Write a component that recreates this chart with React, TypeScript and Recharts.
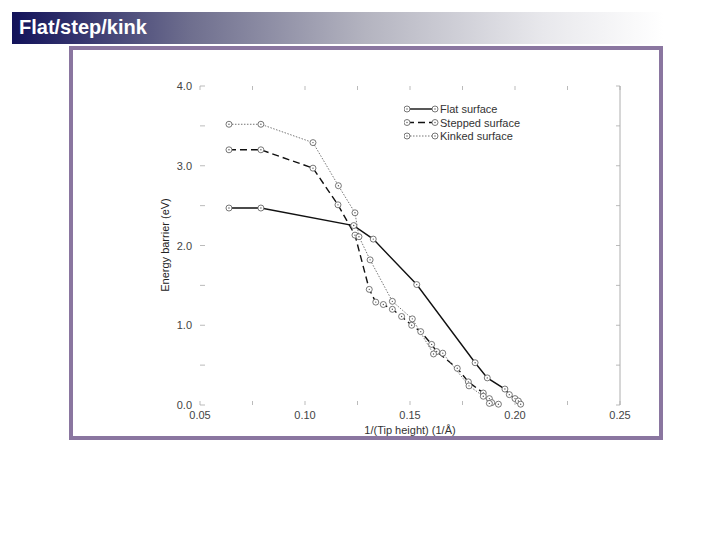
import { LineChart, Line, XAxis, YAxis, ReferenceLine } from "recharts";

// 1/(tip height) vs. energy barrier, one list per surface
const flatSurface = [
  { x: 0.0638, y: 2.47 },
  { x: 0.079, y: 2.47 },
  { x: 0.1232, y: 2.25 },
  { x: 0.1325, y: 2.08 },
  { x: 0.1532, y: 1.51 },
  { x: 0.181, y: 0.53 },
  { x: 0.1868, y: 0.34 },
  { x: 0.1952, y: 0.2 },
  { x: 0.1973, y: 0.13 },
  { x: 0.2, y: 0.08 },
  { x: 0.2016, y: 0.05 },
  { x: 0.2027, y: 0.01 },
];

const steppedSurface = [
  { x: 0.0638, y: 3.2 },
  { x: 0.079, y: 3.2 },
  { x: 0.1038, y: 2.97 },
  { x: 0.1157, y: 2.51 },
  { x: 0.1238, y: 2.13 },
  { x: 0.1306, y: 1.45 },
  { x: 0.1337, y: 1.29 },
  { x: 0.1373, y: 1.26 },
  { x: 0.1416, y: 1.2 },
  { x: 0.146, y: 1.11 },
  { x: 0.1508, y: 1.0 },
  { x: 0.1551, y: 0.92 },
  { x: 0.1603, y: 0.76 },
  { x: 0.1627, y: 0.67 },
  { x: 0.1725, y: 0.46 },
  { x: 0.1778, y: 0.29 },
  { x: 0.1849, y: 0.15 },
  { x: 0.1878, y: 0.08 },
  { x: 0.1889, y: 0.03 },
];

const kinkedSurface = [
  { x: 0.0638, y: 3.52 },
  { x: 0.079, y: 3.52 },
  { x: 0.1038, y: 3.29 },
  { x: 0.1159, y: 2.75 },
  { x: 0.1238, y: 2.41 },
  { x: 0.1257, y: 2.11 },
  { x: 0.131, y: 1.82 },
  { x: 0.1416, y: 1.3 },
  { x: 0.1511, y: 1.08 },
  { x: 0.1612, y: 0.64 },
  { x: 0.1656, y: 0.65 },
  { x: 0.1781, y: 0.24 },
  { x: 0.1849, y: 0.11 },
  { x: 0.1878, y: 0.02 },
  { x: 0.1921, y: 0.01 },
];

const xTicks = [0.05, 0.075, 0.1, 0.125, 0.15, 0.175, 0.2, 0.225, 0.25];
const yTicks = [0, 0.5, 1, 1.5, 2, 2.5, 3, 3.5, 4];

const seriesStyles = [
  { name: "Flat surface", data: flatSurface, stroke: "#111", width: 1.4, dash: undefined },
  { name: "Stepped surface", data: steppedSurface, stroke: "#111", width: 1.4, dash: "7 4" },
  { name: "Kinked surface", data: kinkedSurface, stroke: "#666", width: 0.9, dash: "1.5 1.5" },
];

const FONT = "'Liberation Sans', Arial, Helvetica, sans-serif";
const PLOT_TOP = 86;
const PLOT_BOTTOM = 405;
const PLOT_LEFT = 200;
const PLOT_RIGHT = 620;

function RingDot(props: any) {
  const { cx, cy } = props;
  if (cx == null || cy == null) return null;
  return (
    <g>
      <circle cx={cx} cy={cy} r={3} fill="#fff" stroke="#555" strokeWidth={0.8} />
      <circle cx={cx} cy={cy} r={0.7} fill="#555" />
    </g>
  );
}

function XTick(props: any) {
  const { x, payload } = props;
  const v = payload.value;
  const major = Math.abs(v * 20 - Math.round(v * 20)) < 1e-6;
  return (
    <g>
      <line x1={x} x2={x} y1={PLOT_BOTTOM} y2={PLOT_BOTTOM - 4} stroke="#aaa" strokeWidth={0.8} />
      <line x1={x} x2={x} y1={PLOT_TOP} y2={PLOT_TOP + 4} stroke="#aaa" strokeWidth={0.8} />
      {major && (
        <text x={x} y={419} textAnchor="middle" fontSize={11} fill="#444" fontFamily={FONT}>
          {v.toFixed(2)}
        </text>
      )}
    </g>
  );
}

function YTick(props: any) {
  const { y, payload } = props;
  const v = payload.value;
  const major = Number.isInteger(v);
  return (
    <g>
      <line x1={PLOT_LEFT} x2={PLOT_LEFT + 5} y1={y} y2={y} stroke="#aaa" strokeWidth={0.8} />
      <line x1={PLOT_RIGHT} x2={PLOT_RIGHT - 4} y1={y} y2={y} stroke="#aaa" strokeWidth={0.8} />
      {major && (
        <text x={192} y={y + 4} textAnchor="end" fontSize={11} fill="#444" fontFamily={FONT}>
          {v.toFixed(1)}
        </text>
      )}
    </g>
  );
}

function LegendBox() {
  return (
    <svg width={130} height={44}>
      {seriesStyles.map((s, i) => {
        const y = 7 + i * 13.5;
        return (
          <g key={s.name}>
            <line x1={3} x2={31} y1={y} y2={y} stroke={s.stroke} strokeWidth={s.width} strokeDasharray={s.dash} />
            <RingDot cx={3} cy={y} />
            <RingDot cx={31} cy={y} />
            <text x={36} y={y + 4} fontSize={11} fill="#333" fontFamily={FONT}>
              {s.name}
            </text>
          </g>
        );
      })}
    </svg>
  );
}

export default function App() {
  return (
    <div style={{ position: "absolute", left: 0, top: 0, width: 720, height: 540, background: "#fff" }}>
      {/* title bar */}
      <div
        style={{
          position: "absolute",
          left: 12,
          top: 12,
          width: 708,
          height: 32,
          background: "linear-gradient(to right, #12125a 0%, #6e6e8e 25%, #b4b4c0 50%, #e8e8ec 75%, #ffffff 92%)",
        }}
      >
        <span
          style={{
            position: "absolute",
            left: 7,
            top: 4,
            color: "#fff",
            fontFamily: FONT,
            fontWeight: "bold",
            fontSize: 20,
          }}
        >
          Flat/step/kink
        </span>
      </div>
      {/* purple frame */}
      <div
        style={{
          position: "absolute",
          left: 69,
          top: 46,
          width: 586,
          height: 386,
          border: "4px solid #8a76a0",
          background: "#fff",
        }}
      />
      <div style={{ position: "absolute", left: 0, top: 0 }}>
        <LineChart
          width={720}
          height={540}
          margin={{ top: PLOT_TOP, left: PLOT_LEFT - 40, right: 720 - PLOT_RIGHT, bottom: 540 - PLOT_BOTTOM - 30 }}
        >
          <XAxis
            type="number"
            dataKey="x"
            domain={[0.05, 0.25]}
            ticks={xTicks}
            allowDataOverflow
            axisLine={false}
            tickLine={false}
            tickSize={0}
            tickMargin={0}
            height={30}
            tick={<XTick />}
            interval={0}
            label={{
              content: () => (
                <text x={410} y={434} textAnchor="middle" fontSize={11} fill="#333" fontFamily={FONT}>
                  1/(Tip height) (1/Å)
                </text>
              ),
            }}
          />
          <YAxis
            type="number"
            domain={[0, 4]}
            ticks={yTicks}
            width={40}
            axisLine={false}
            tickLine={false}
            tickSize={0}
            tickMargin={0}
            tick={<YTick />}
            interval={0}
            label={{
              content: () => (
                <text
                  x={169}
                  y={245}
                  transform="rotate(-90 169 245)"
                  textAnchor="middle"
                  fontSize={11}
                  fill="#222"
                  fontFamily={FONT}
                >
                  Energy barrier (eV)
                </text>
              ),
            }}
          />
          <ReferenceLine x={0.25} stroke="#999" strokeWidth={0.8} />
          {seriesStyles.map((s) => (
            <Line
              key={s.name}
              name={s.name}
              data={s.data}
              dataKey="y"
              type="linear"
              stroke={s.stroke}
              strokeWidth={s.width}
              strokeDasharray={s.dash}
              dot={<RingDot />}
              activeDot={false}
              isAnimationActive={false}
            />
          ))}
        </LineChart>
      </div>
      {/* series key */}
      <div style={{ position: "absolute", left: 404, top: 102 }}>
        <LegendBox />
      </div>
    </div>
  );
}
